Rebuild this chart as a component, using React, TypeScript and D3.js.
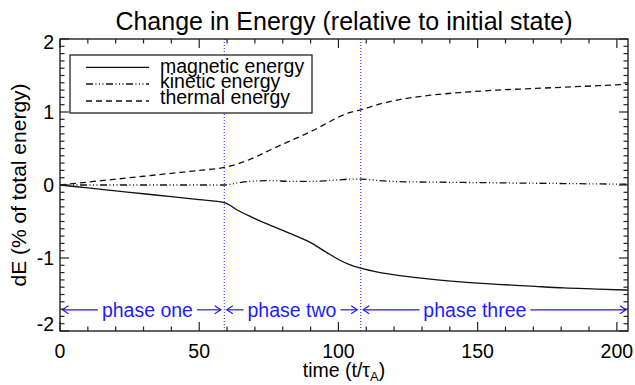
import React, { useEffect, useRef } from "react";
import * as d3 from "d3";

// Time samples (t / tau_A)
const time = [0, 10, 20, 30, 40, 50, 59, 64, 70, 76, 83, 90, 96, 100, 104, 108, 115, 122, 133, 145, 157, 169, 181, 193, 204];

// Energy changes in % of total energy
const magnetic = [0, -0.04, -0.08, -0.12, -0.16, -0.2, -0.24, -0.35, -0.46, -0.56, -0.67, -0.79, -0.93, -1.02, -1.09, -1.14, -1.2, -1.24, -1.29, -1.33, -1.36, -1.385, -1.41, -1.425, -1.44];
const kinetic = [0, 0, 0, 0, 0, 0, 0, 0.03, 0.055, 0.06, 0.05, 0.05, 0.06, 0.07, 0.08, 0.08, 0.06, 0.045, 0.04, 0.035, 0.03, 0.025, 0.02, 0.015, 0.01];
const thermal = [0, 0.04, 0.08, 0.12, 0.16, 0.2, 0.24, 0.29, 0.38, 0.49, 0.61, 0.73, 0.85, 0.93, 0.99, 1.03, 1.11, 1.17, 1.23, 1.27, 1.3, 1.32, 1.34, 1.36, 1.38];

const seriesNames = ["magnetic energy", "kinetic energy", "thermal energy"];

// Phase boundaries and labels
const phaseBounds = [0, 59, 108, 204];
const phaseLabels = ["phase one", "phase two", "phase three"];
const phaseLabelAt = [31.4, 83.3, 149];
const phaseLevel = -1.71;

const xTicks = [0, 50, 100, 150, 200];
const yTicks = [-2, -1, 0, 1, 2];

const W = 635;
const H = 385;
const FONT = "'Liberation Sans', Arial, Helvetica, sans-serif";
const BLUE = "#1c1cff";

export default function App() {
  const ref = useRef<SVGSVGElement>(null);

  useEffect(() => {
    const svg = d3.select(ref.current);
    svg.selectAll("*").remove();

    const left = 60, right = 628, top = 39, bottom = 331;
    const x = d3.scaleLinear().domain([0, 204]).range([left, right]);
    const y = d3.scaleLinear().domain([-2, 2]).range([bottom, top]);

    const g = svg.append("g");

    // Title
    g.append("text")
      .attr("x", (left + right) / 2)
      .attr("y", 30)
      .attr("text-anchor", "middle")
      .attr("font-family", FONT)
      .attr("font-size", 25)
      .attr("fill", "#000")
      .text("Change in Energy (relative to initial state)");

    // Phase separators
    phaseBounds.slice(1, 3).forEach((t) => {
      g.append("line")
        .attr("x1", x(t)).attr("x2", x(t))
        .attr("y1", top).attr("y2", bottom)
        .attr("stroke", BLUE)
        .attr("stroke-width", 1)
        .attr("stroke-dasharray", "1,2");
    });

    // Curves
    const series = [
      { values: magnetic, dash: null },
      { values: kinetic, dash: "7,2.5,1,2.5,1,2.5,1,2.5" },
      { values: thermal, dash: "6,4" },
    ];
    const line = d3
      .line<number>()
      .x((_, i) => x(time[i]))
      .y((v) => y(v))
      .curve(d3.curveMonotoneX);

    series.forEach((s) => {
      g.append("path")
        .attr("d", line(s.values) as string)
        .attr("fill", "none")
        .attr("stroke", "#111")
        .attr("stroke-width", 1.3)
        .attr("stroke-dasharray", s.dash);
    });

    // Phase annotations with arrows
    const ay = y(phaseLevel);
    const arrow = (x1: number, x2: number) => {
      g.append("line")
        .attr("x1", x1).attr("x2", x2)
        .attr("y1", ay).attr("y2", ay)
        .attr("stroke", BLUE).attr("stroke-width", 1.2);
    };
    const head = (xh: number, dir: number) => {
      g.append("path")
        .attr("d", `M${xh - dir * 6},${ay - 4}L${xh},${ay}L${xh - dir * 6},${ay + 4}`)
        .attr("fill", "none")
        .attr("stroke", BLUE)
        .attr("stroke-width", 1.2);
    };
    phaseLabels.forEach((label, i) => {
      const t = g.append("text")
        .attr("x", x(phaseLabelAt[i]))
        .attr("y", ay + 7)
        .attr("text-anchor", "middle")
        .attr("font-family", FONT)
        .attr("font-size", 19.5)
        .attr("fill", BLUE)
        .text(label);
      const w = (t.node() as SVGTextElement).getComputedTextLength();
      const x0 = x(phaseBounds[i]) + 2.5;
      const x1 = x(phaseBounds[i + 1]) - (i === 2 ? 2 : 3.5);
      const tl = x(phaseLabelAt[i]) - w / 2 - 4;
      const tr = x(phaseLabelAt[i]) + w / 2 + 4;
      arrow(x0, tl);
      head(x0, -1);
      arrow(tr, x1);
      head(x1, 1);
    });

    // Frame
    const axisColor = "#222";
    g.append("rect")
      .attr("x", left).attr("y", top)
      .attr("width", right - left).attr("height", bottom - top)
      .attr("fill", "none")
      .attr("stroke", axisColor)
      .attr("stroke-width", 1.4);

    // X ticks (bottom and top)
    const xMinor = d3.range(0, 205, 10);
    xMinor.forEach((t) => {
      const major = t % 50 === 0;
      const len = major ? 9 : 4.5;
      [[bottom, -1], [top, 1]].forEach(([y0, d]) => {
        g.append("line")
          .attr("x1", x(t)).attr("x2", x(t))
          .attr("y1", y0).attr("y2", y0 + d * len)
          .attr("stroke", axisColor).attr("stroke-width", 1.2);
      });
    });
    xTicks.forEach((t) => {
      g.append("text")
        .attr("x", x(t)).attr("y", 357.5)
        .attr("text-anchor", "middle")
        .attr("font-family", FONT).attr("font-size", 19.5)
        .text(String(t));
    });

    // Y ticks (left and right)
    const yMinor = d3.range(-20, 21).map((k) => k / 10);
    yMinor.forEach((v) => {
      const major = Math.abs(v - Math.round(v)) < 1e-6;
      const len = major ? 9 : 4.5;
      [[left, 1], [right, -1]].forEach(([x0, d]) => {
        g.append("line")
          .attr("x1", x0).attr("x2", x0 + d * len)
          .attr("y1", y(v)).attr("y2", y(v))
          .attr("stroke", axisColor).attr("stroke-width", 1.2);
      });
    });
    yTicks.forEach((v) => {
      let base = y(v) + 7;
      base = Math.max(base, top + 9.5);
      base = Math.min(base, bottom);
      g.append("text")
        .attr("x", 54).attr("y", base)
        .attr("text-anchor", "end")
        .attr("font-family", FONT).attr("font-size", 19.5)
        .text(String(v));
    });

    // Axis titles
    const xt = g.append("text")
      .attr("x", (left + right) / 2).attr("y", 377)
      .attr("text-anchor", "middle")
      .attr("font-family", FONT).attr("font-size", 19.5);
    xt.append("tspan").text("time (t/\u03c4");
    xt.append("tspan").attr("font-size", 13).attr("dy", 4).text("A");
    xt.append("tspan").attr("dy", -4).text(")");

    g.append("text")
      .attr("transform", `translate(26,${(top + bottom) / 2}) rotate(-90)`)
      .attr("text-anchor", "middle")
      .attr("font-family", FONT).attr("font-size", 21)
      .text("dE (% of total energy)");

    // Legend
    const lg = g.append("g");
    lg.append("rect")
      .attr("x", 70).attr("y", 55)
      .attr("width", 242).attr("height", 58)
      .attr("fill", "#fff")
      .attr("stroke", "#111").attr("stroke-width", 1.2);
    const rowY = [67.3, 84, 101];
    const textY = [72.7, 88.3, 103.5];
    series.forEach((s, i) => {
      lg.append("line")
        .attr("x1", 86).attr("x2", 149)
        .attr("y1", rowY[i]).attr("y2", rowY[i])
        .attr("stroke", "#111").attr("stroke-width", 1.3)
        .attr("stroke-dasharray", s.dash);
      lg.append("text")
        .attr("x", 160).attr("y", textY[i])
        .attr("font-family", FONT).attr("font-size", 19.5)
        .text(seriesNames[i]);
    });
  }, []);

  return (
    <svg
      ref={ref}
      width={W}
      height={H}
      style={{ position: "absolute", left: 0, top: 0, background: "#fff" }}
    />
  );
}
